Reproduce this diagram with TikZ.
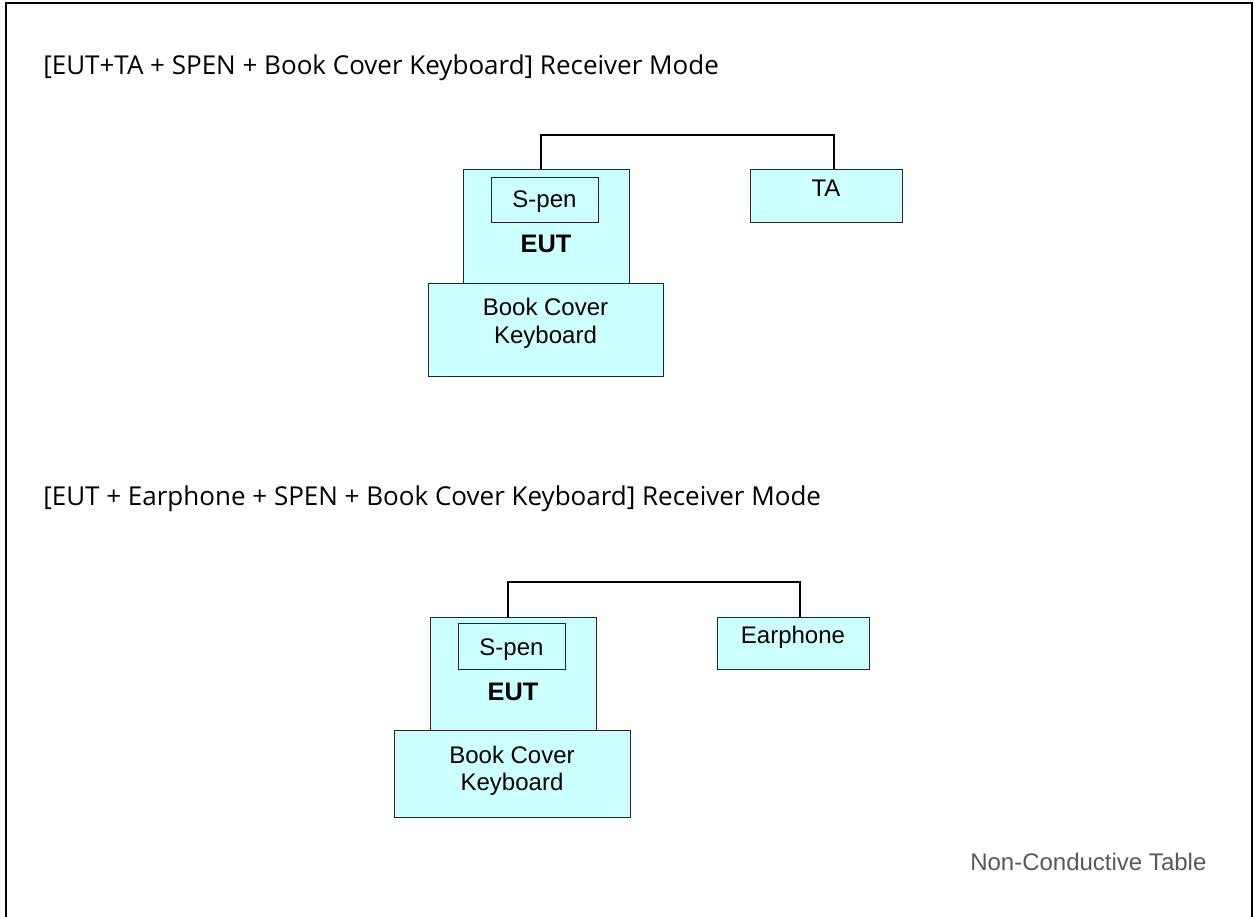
\documentclass[tikz,border=0pt]{standalone}
\usepackage{fontspec}
\setmainfont{Liberation Sans}
\newfontfamily\titlefont{Open Sans}
\definecolor{boxfill}{HTML}{CCFFFF}
\definecolor{tablegray}{HTML}{595959}
\begin{document}
\begin{tikzpicture}[x=0.75pt,y=-0.75pt,
  unit/.style={draw=black!85,line width=1pt,fill=boxfill,inner sep=0pt,anchor=north west},
  lbl/.style={font=\fontsize{18}{21}\selectfont,inner sep=0pt,anchor=base},
  link/.style={draw=black,line width=1.4pt},
  title/.style={font=\titlefont\fontsize{19.5}{24}\selectfont,anchor=base west,inner sep=0pt}]
 \useasboundingbox (0,0) rectangle (1254,917);
 \draw[line width=1.5pt] (6,925) -- (6,3) -- (1252,3) -- (1252,925);
 % first set-up
 \node[title] (title1) at (43,75) {[EUT+TA + SPEN + Book Cover Keyboard] Receiver Mode};
 \node[unit,minimum width=124.5pt,minimum height=85.5pt] (eut1) at (463,169) {};
 \node[unit,minimum width=176.25pt,minimum height=69.75pt] (kbd1) at (428,283) {};
 \node[unit,minimum width=80.25pt,minimum height=33.75pt] (spen1) at (491,177) {};
 \node[unit,minimum width=114pt,minimum height=39.75pt] (ta1) at (750,169) {};
 \node[lbl] (spen1txt) at (544.5,207.3) {S-pen};
 \node[lbl,font=\bfseries\fontsize{19}{21}\selectfont] (eut1txt) at (546,252.7) {EUT};
 \node[lbl] (ta1txt) at (826,196) {TA};
 \node[lbl] (kbd1txt1) at (545.5,315) {Book Cover};
 \node[lbl] (kbd1txt2) at (545.5,343) {Keyboard};
 \draw[link] ([xshift=-4.5pt]eut1.north) -- ++(0,-34) -| ([xshift=5.25pt]ta1.north);
 % second set-up
 \node[title] (title2) at (43,505) {[EUT + Earphone + SPEN + Book Cover Keyboard] Receiver Mode};
 \node[unit,minimum width=124.5pt,minimum height=84.75pt] (eut2) at (430,617) {};
 \node[unit,minimum width=177pt,minimum height=65.25pt] (kbd2) at (394,730) {};
 \node[unit,minimum width=80.25pt,minimum height=34.5pt] (spen2) at (458,623) {};
 \node[unit,minimum width=114pt,minimum height=39pt] (ear2) at (717,617) {};
 \node[lbl] (spen2txt) at (511.5,655.3) {S-pen};
 \node[lbl,font=\bfseries\fontsize{19}{21}\selectfont] (eut2txt) at (513,700) {EUT};
 \node[lbl] (ear2txt) at (793,643.5) {Earphone};
 \node[lbl] (kbd2txt1) at (512,763) {Book Cover};
 \node[lbl] (kbd2txt2) at (512,790.5) {Keyboard};
 \draw[link] ([xshift=-4.5pt]eut2.north) -- ++(0,-35) -| ([xshift=4.5pt]ear2.north);
 % table
 \node[lbl,anchor=base west,text=tablegray] (table) at (970,870) {Non-Conductive Table};
\end{tikzpicture}
\end{document}
